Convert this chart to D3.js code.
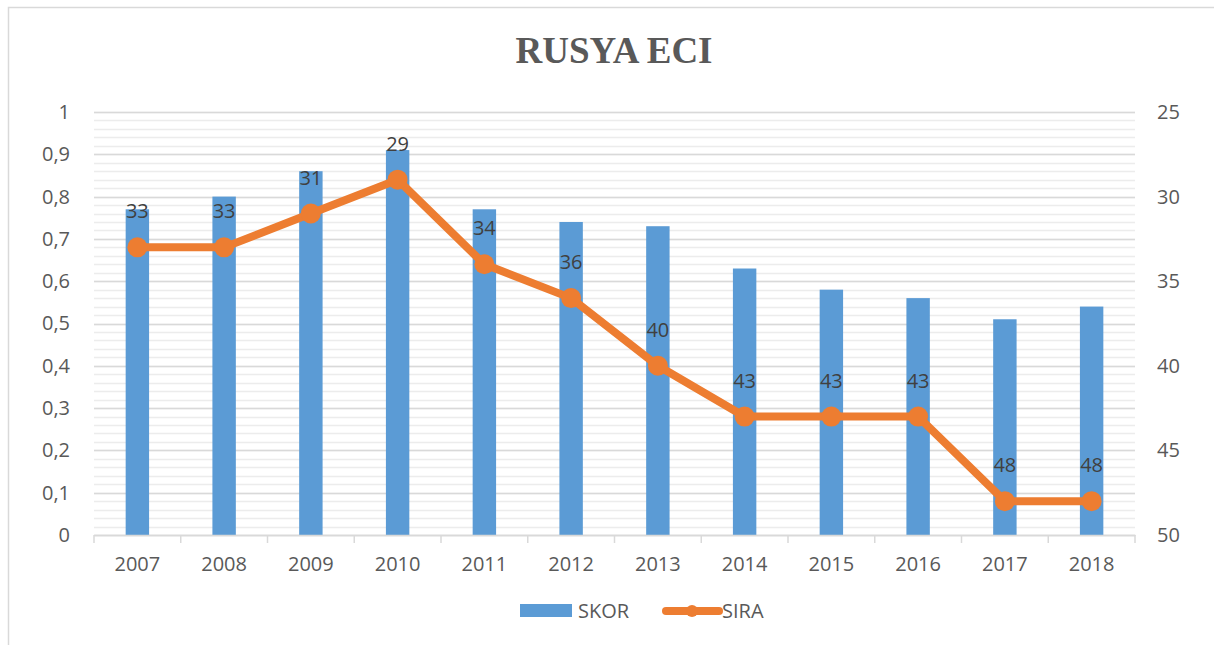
<!DOCTYPE html>
<html><head><meta charset="utf-8">
<script src="https://cdn.jsdelivr.net/npm/d3@7"></script>
<style>body{margin:0;background:#fff;}svg{display:block;}</style>
</head><body>
<svg id="c" width="1214" height="645"></svg>
<script>
const years = ["2007","2008","2009","2010","2011","2012","2013","2014","2015","2016","2017","2018"];
const skor = [0.77,0.80,0.86,0.91,0.77,0.74,0.73,0.63,0.58,0.56,0.51,0.54];
const sira = [33,33,31,29,34,36,40,43,43,43,48,48];
const leftTicks = [0,0.1,0.2,0.3,0.4,0.5,0.6,0.7,0.8,0.9,1];
const rightTicks = [25,30,35,40,45,50];
const title = "RUSYA ECI";
const seriesNames = ["SKOR","SIRA"];

const svg = d3.select("#c");
const L = 94, R = 1135, T = 112, B = 535;
const font = "'Open Sans', 'Noto Sans', sans-serif";
const blue = "#5b9bd5", orange = "#ed7d31", txt = "#595959";

svg.append("rect").attr("x",8.5).attr("y",7.5).attr("width",1220).attr("height",660)
  .attr("fill","#fff").attr("stroke","#d9d9d9").attr("stroke-width",1.5);

const x = d3.scaleBand().domain(years).range([L,R]).paddingInner(0.73).paddingOuter(0.365);
const xb = d3.scaleBand().domain(years).range([L,R]);
const y = d3.scaleLinear().domain([0,1]).range([B,T]);
const y2 = d3.scaleLinear().domain([50,25]).range([B,T]);

// minor gridlines
const minor = d3.range(0,1.0001,0.02);
svg.append("g").selectAll("line").data(minor).join("line")
  .attr("x1",L).attr("x2",R).attr("y1",d=>Math.round(y(d))+0.5).attr("y2",d=>Math.round(y(d))+0.5)
  .attr("stroke","#ececec").attr("stroke-width",1.5);
svg.append("g").selectAll("line").data(leftTicks).join("line")
  .attr("x1",L).attr("x2",R).attr("y1",d=>Math.round(y(d))+0.5).attr("y2",d=>Math.round(y(d))+0.5)
  .attr("stroke","#d9d9d9").attr("stroke-width",1.5);

// bars
svg.append("g").selectAll("rect").data(skor).join("rect")
  .attr("x",(d,i)=>x(years[i])).attr("width",x.bandwidth())
  .attr("y",d=>y(d)).attr("height",d=>B-y(d)).attr("fill",blue);

// x axis
const xa = svg.append("g").attr("transform",`translate(0,${B})`)
  .call(d3.axisBottom(xb).tickSizeOuter(0).tickSize(0).tickPadding(22));
xa.select(".domain").attr("stroke","#d9d9d9").attr("stroke-width",1.5);
xa.selectAll("text").attr("font-family",font).attr("font-size",20).attr("fill",txt);
svg.append("g").selectAll("line").data(d3.range(years.length+1)).join("line")
  .attr("x1",i=>L+i*xb.step()).attr("x2",i=>L+i*xb.step())
  .attr("y1",B).attr("y2",B+8).attr("stroke","#d9d9d9").attr("stroke-width",1.5);

// left axis
const la = svg.append("g").attr("transform",`translate(${L},0)`)
  .call(d3.axisLeft(y).tickValues(leftTicks).tickSize(0).tickPadding(24)
    .tickFormat(d=>d3.format("")(d).replace(".",",")));
la.select(".domain").remove();
la.selectAll("text").attr("font-family",font).attr("font-size",20).attr("fill",txt);

// right axis
const ra = svg.append("g").attr("transform",`translate(${R},0)`)
  .call(d3.axisRight(y2).tickValues(rightTicks).tickSize(0).tickPadding(22));
ra.select(".domain").remove();
ra.selectAll("text").attr("font-family",font).attr("font-size",20).attr("fill",txt);

// line
const cx = i => xb(years[i]) + xb.bandwidth()/2;
svg.append("path").datum(sira)
  .attr("d",d3.line().x((d,i)=>cx(i)).y(d=>y2(d)))
  .attr("fill","none").attr("stroke",orange).attr("stroke-width",8).attr("stroke-linejoin","round");
svg.append("g").selectAll("circle").data(sira).join("circle")
  .attr("cx",(d,i)=>cx(i)).attr("cy",d=>y2(d)).attr("r",10).attr("fill",orange);

// labels
svg.append("g").selectAll("text").data(sira).join("text")
  .attr("x",(d,i)=>cx(i)).attr("y",d=>y2(d)-36).attr("dy","0.35em")
  .attr("text-anchor","middle").attr("font-family",font).attr("font-size",20)
  .attr("fill","#404040").text(d=>d);

// title
svg.append("text").attr("x",614).attr("y",63).attr("text-anchor","middle")
  .attr("font-family","'Liberation Serif', 'Times New Roman', serif").attr("font-weight","bold")
  .attr("font-size",37).attr("fill",txt).text(title);

// legend
const lg = svg.append("g");
lg.append("rect").attr("x",520).attr("y",604).attr("width",52).attr("height",13).attr("fill",blue);
lg.append("text").attr("x",578).attr("y",611).attr("dy","0.35em").attr("font-family",font)
  .attr("font-size",20).attr("fill",txt).text(seriesNames[0]);
lg.append("line").attr("x1",666).attr("x2",719).attr("y1",611).attr("y2",611)
  .attr("stroke",orange).attr("stroke-width",8).attr("stroke-linecap","round");
lg.append("circle").attr("cx",692).attr("cy",611).attr("r",6).attr("fill",orange);
lg.append("text").attr("x",722).attr("y",611).attr("dy","0.35em").attr("font-family",font)
  .attr("font-size",20).attr("fill",txt).text(seriesNames[1]);
</script>
</body></html>
